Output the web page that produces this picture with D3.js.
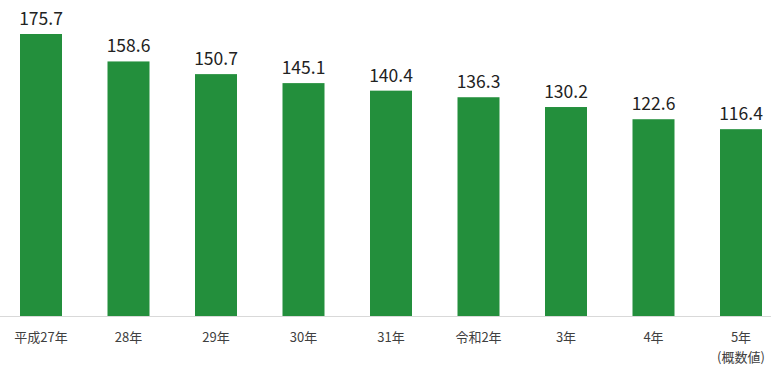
<!DOCTYPE html>
<html>
<head>
<meta charset="utf-8">
<script src="https://cdn.jsdelivr.net/npm/d3@7"></script>
<style>
  body { margin: 0; background: #fff; }
  svg { display: block; font-family: "Noto Sans CJK JP", "Noto Sans", sans-serif; }
</style>
</head>
<body>
<div id="chart"></div>
<script>
// years (second line only for the last one)
var categories = ["平成27年", "28年", "29年", "30年", "31年", "令和2年", "3年", "4年", "5年"];
var subLabels = ["", "", "", "", "", "", "", "", "(概数値)"];
var values = [175.7, 158.6, 150.7, 145.1, 140.4, 136.3, 130.2, 122.6, 116.4];

var w = 771;
var h = 367;
var baseY = 316;

var svg = d3.select("#chart")
  .append("svg")
  .attr("width", w)
  .attr("height", h);

var x = d3.scaleBand()
  .domain(categories)
  .range([-2.75, 784.75])
  .paddingInner(0.52)
  .paddingOuter(0.26);

var y = d3.scaleLinear()
  .domain([0, 175.7])
  .range([baseY, 34]);

svg.append("g")
  .selectAll("rect")
  .data(values)
  .enter()
  .append("rect")
  .attr("x", function(d, i) { return x(categories[i]); })
  .attr("y", function(d) { return y(d); })
  .attr("width", x.bandwidth())
  .attr("height", function(d) { return baseY - y(d); })
  .attr("fill", "#238f3c");

// baseline
svg.append("line")
  .attr("x1", 0)
  .attr("x2", w)
  .attr("y1", baseY + 0.5)
  .attr("y2", baseY + 0.5)
  .attr("stroke", "#d9d9d9")
  .attr("stroke-width", 1);

// value labels
svg.append("g")
  .selectAll("text")
  .data(values)
  .enter()
  .append("text")
  .attr("x", function(d, i) { return x(categories[i]) + x.bandwidth() / 2; })
  .attr("y", function(d) { return y(d) - 9; })
  .attr("text-anchor", "middle")
  .attr("font-size", 17.5)
  .attr("fill", "#222")
  .text(function(d) { return d.toFixed(1); });

// category labels
var xg = svg.append("g")
  .attr("transform", "translate(0," + baseY + ")")
  .call(d3.axisBottom(x).tickSize(0).tickPadding(0));
xg.select(".domain").remove();
xg.selectAll(".tick text")
  .attr("y", 26)
  .attr("dy", 0)
  .attr("font-size", 13)
  .attr("font-family", "\"Noto Sans CJK JP\", sans-serif")
  .attr("fill", "#404040");

xg.selectAll(".tick")
  .append("text")
  .attr("y", 46)
  .attr("text-anchor", "middle")
  .attr("font-size", 13)
  .attr("font-family", "\"Noto Sans CJK JP\", sans-serif")
  .attr("fill", "#404040")
  .text(function(d, i) { return subLabels[i]; });
</script>
</body>
</html>
